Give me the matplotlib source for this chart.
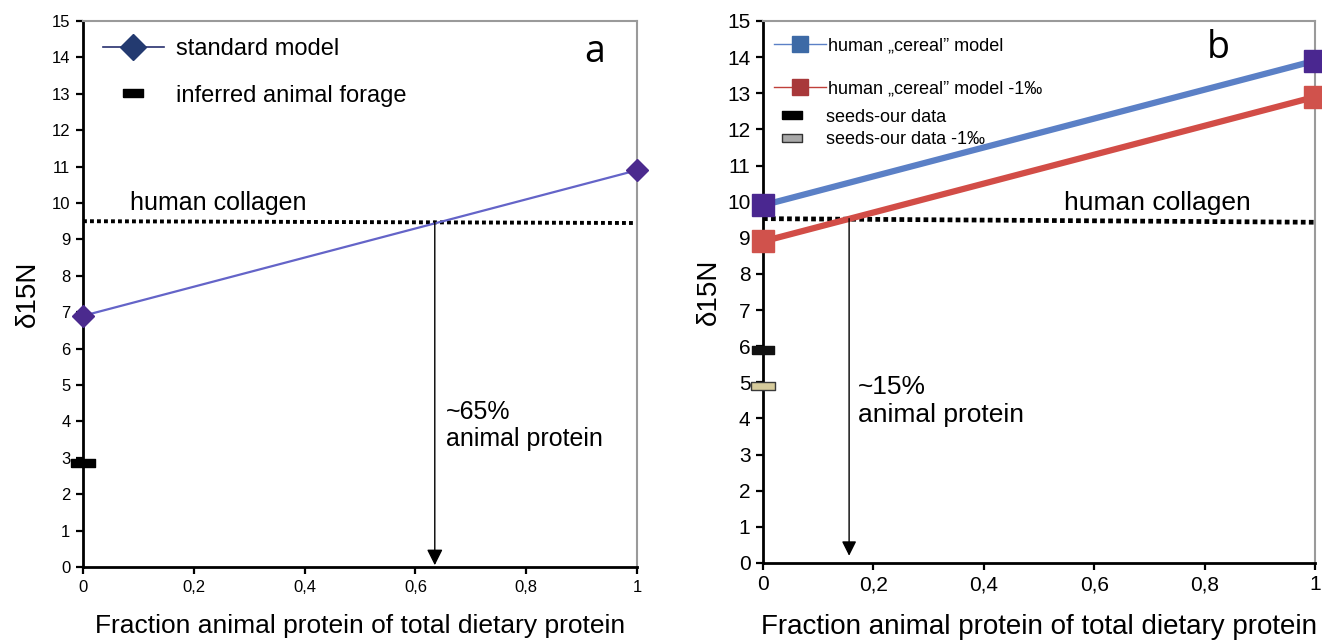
import matplotlib
matplotlib.use("Agg")
import matplotlib.pyplot as plt
from matplotlib.lines import Line2D

plt.rcParams['font.family'] = ['Liberation Sans', 'DejaVu Sans']

# ---------------- data ----------------
x_ends = [0, 1]
xtick_vals = [0, 0.2, 0.4, 0.6, 0.8, 1]
xtick_labels = ['0', '0,2', '0,4', '0,6', '0,8', '1']
ytick_vals = list(range(0, 16))

# panel a
standard_model = [6.9, 10.9]
forage_a = [2.85]
collagen_a = [9.5, 9.45]
arrow_a_x = 0.635
label_a_pct = "~65%\nanimal protein"

# panel b
cereal_model = [9.9, 13.9]
cereal_model_minus1 = [8.9, 12.9]
seeds = [5.9]
seeds_minus1 = [4.9]
collagen_b = [9.53, 9.43]
arrow_b_x = 0.156
label_b_pct = "~15%\nanimal protein"

xlabel = "Fraction animal protein of total dietary protein"
ylabel = "δ15N"

# ---------------- figure ----------------
fig = plt.figure(figsize=(13.22, 6.42), dpi=100)
axA = fig.add_axes([83/1322, 75/642, 554/1322, 546/642])
axB = fig.add_axes([763/1322, 79/642, 552/1322, 542/642])

bar_marker = [(-1, -0.34), (1, -0.34), (1, 0.34), (-1, 0.34), (-1, -0.34)]


def style_axes(ax, tick_fs, xl_fs):
    ax.set_xlim(0, 1)
    ax.set_ylim(0, 15)
    ax.set_xticks(xtick_vals)
    ax.set_xticklabels(xtick_labels)
    ax.set_yticks(ytick_vals)
    ax.tick_params(axis='both', direction='out', length=5, width=1.6,
                   labelsize=tick_fs, pad=4)
    for s in ['left', 'bottom']:
        ax.spines[s].set_linewidth(2.0)
        ax.spines[s].set_color('black')
    for s in ['top', 'right']:
        ax.spines[s].set_linewidth(1.5)
        ax.spines[s].set_color('#9a9a9a')
    ax.set_xlabel(xlabel, fontsize=xl_fs, labelpad=14)


# ---------------- panel a ----------------
style_axes(axA, 12, 19)
axA.set_ylabel(ylabel, fontsize=20, labelpad=8)

axA.plot(x_ends, collagen_a, color='black', lw=2.8, ls=(0, (1, 0.8)), zorder=2)
axA.plot(x_ends, standard_model, color='#6464c8', lw=1.6, zorder=3)
axA.plot(x_ends, standard_model, ls='none', marker='D', ms=11,
         mfc='#4b2a8e', mec='#4b2a8e', clip_on=False, zorder=5)
axA.plot([0], forage_a, ls='none', marker=bar_marker, ms=17,
         mfc='black', mec='black', clip_on=False, zorder=5)

axA.annotate('', xy=(arrow_a_x, 0.05), xytext=(arrow_a_x, collagen_a[0]),
             arrowprops=dict(arrowstyle='-|>', color='black', lw=1.0,
                             mutation_scale=24, shrinkA=0, shrinkB=0))
axA.text(0.655, 4.6, label_a_pct, fontsize=18, va='top', ha='left',
         linespacing=1.2)
axA.text(0.085, 10.0, "human collagen", fontsize=18, va='center', ha='left')
axA.text(0.923, 14.15, "a", fontsize=27, va='center', ha='center',
         family='Open Sans')

handles_a = [
    Line2D([], [], color='#28306e', lw=1.2, marker='D', ms=13,
           mfc='#233a70', mec='#233a70'),
    Line2D([], [], ls='none', marker=bar_marker, ms=15,
           mfc='black', mec='black'),
]
axA.legend(handles_a, ["standard model", "inferred animal forage"],
           loc='upper left', bbox_to_anchor=(0.01, 0.995), frameon=False,
           fontsize=17, handlelength=2.6, handletextpad=0.5,
           labelspacing=1.05, borderaxespad=0.2)

# ---------------- panel b ----------------
style_axes(axB, 15, 20)
axB.set_ylabel(ylabel, fontsize=20, labelpad=4)

axB.plot(x_ends, collagen_b, color='black', lw=3.4, ls=(0, (1, 0.7)), zorder=2)
axB.plot(x_ends, cereal_model, color='#5b80c6', lw=4.5, zorder=3)
axB.plot(x_ends, cereal_model_minus1, color='#d24d47', lw=4.5, zorder=3)
axB.plot(x_ends, cereal_model, ls='none', marker='s', ms=16,
         mfc='#4a2790', mec='#4a2790', clip_on=False, zorder=5)
axB.plot(x_ends, cereal_model_minus1, ls='none', marker='s', ms=16,
         mfc='#d0524c', mec='#d0524c', clip_on=False, zorder=5)
axB.plot([0], seeds, ls='none', marker=bar_marker, ms=16,
         mfc='#111111', mec='#111111', clip_on=False, zorder=5)
axB.plot([0], seeds_minus1, ls='none', marker=bar_marker, ms=17,
         mfc='#d6cb9c', mec='#3a3a3a', mew=1.0, clip_on=False, zorder=5)

axB.annotate('', xy=(arrow_b_x, 0.2), xytext=(arrow_b_x, collagen_b[0]),
             arrowprops=dict(arrowstyle='-|>', color='black', lw=1.0,
                             mutation_scale=22, shrinkA=0, shrinkB=0))
axB.text(0.172, 5.2, label_b_pct, fontsize=19, va='top', ha='left',
         linespacing=1.2)
axB.text(0.545, 9.95, "human collagen", fontsize=19, va='center', ha='left')
axB.text(0.825, 14.25, "b", fontsize=27, va='center', ha='center',
         family='Open Sans')

handles_b1 = [
    Line2D([], [], color='#5b80c6', lw=1.0, marker='s', ms=12,
           mfc='#3d6aa6', mec='#3d6aa6'),
    Line2D([], [], color='#c0403a', lw=1.0, marker='s', ms=12,
           mfc='#a8383a', mec='#a8383a'),
]
leg1 = axB.legend(handles_b1, ["human „cereal\u201d model",
                               "human „cereal\u201d model -1‰"],
                  loc='upper left', bbox_to_anchor=(0.0, 0.99), frameon=False,
                  fontsize=13, handlelength=2.9, handletextpad=0.1,
                  labelspacing=1.45, borderaxespad=0.2)
axB.add_artist(leg1)
handles_b2 = [
    Line2D([], [], ls='none', marker=bar_marker, ms=15,
           mfc='black', mec='black'),
    Line2D([], [], ls='none', marker=bar_marker, ms=15,
           mfc='#a9a9a9', mec='#333333', mew=1.0),
]
axB.legend(handles_b2, ["seeds-our data", "seeds-our data -1‰"],
           loc='upper left', bbox_to_anchor=(0.0, 0.858), frameon=False,
           fontsize=13, handlelength=2.0, handletextpad=0.9,
           labelspacing=0.3, borderaxespad=0.2)

fig.savefig("out.png", dpi=100)
